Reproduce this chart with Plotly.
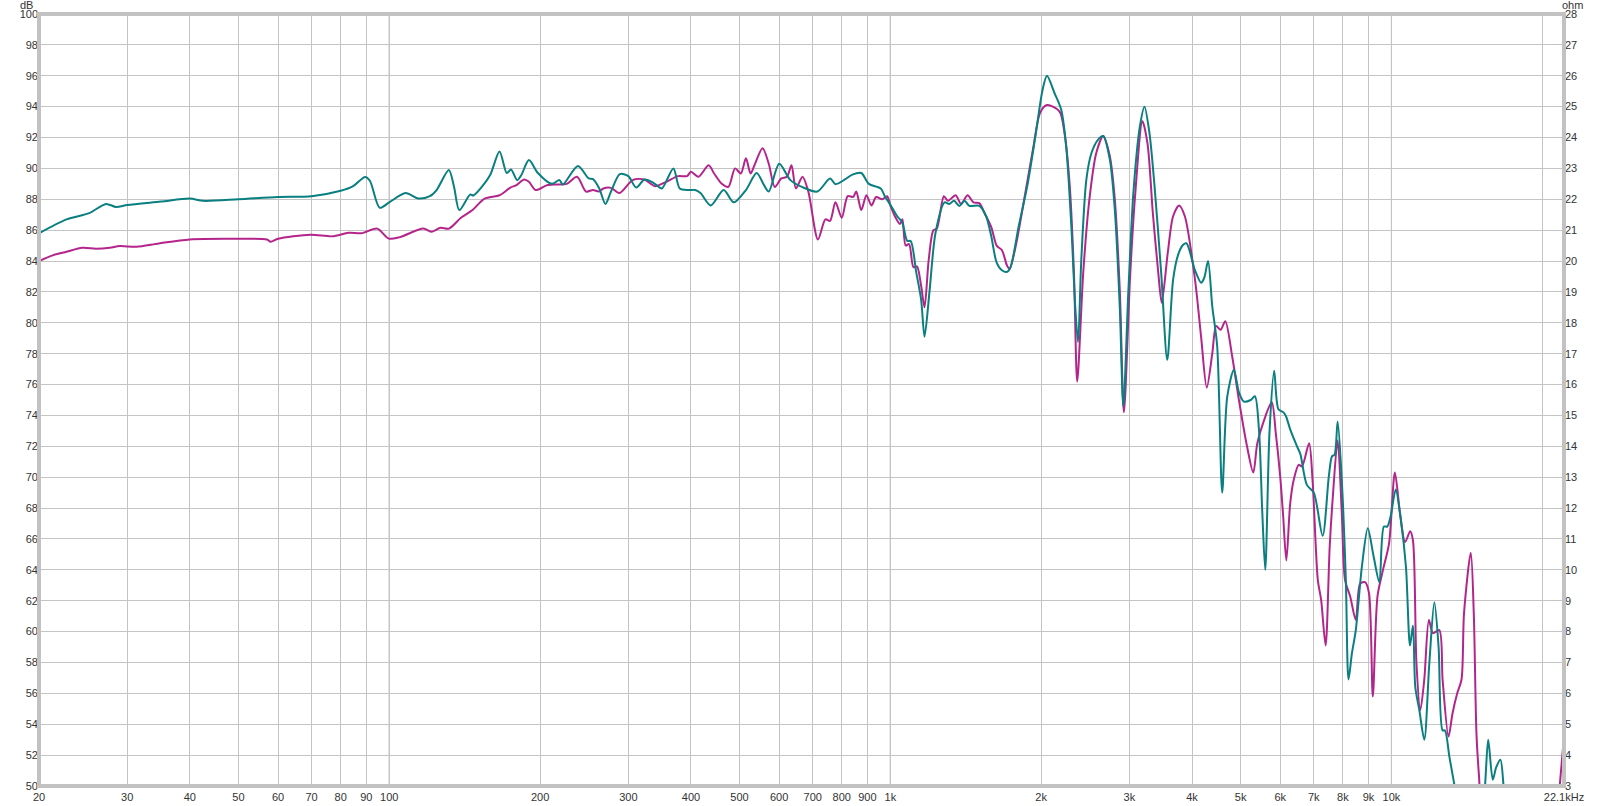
import plotly.graph_objects as go

# ---------------- data ----------------
freq_teal = [20, 22.7, 25.2, 27.2, 28.5, 30, 35, 40, 42.5, 50, 60, 70, 80, 84.7, 89.5, 91.5, 95.7, 100,
             107.8, 114.2, 120.5, 124.3, 131.5, 134.7, 138, 145, 147.3, 153, 159, 166, 171.6, 175, 180,
             183.5, 190, 198, 211, 218.6, 222, 238, 250, 255, 262.5, 270, 277, 288.5, 300, 311, 323, 334,
             342, 350, 369, 380, 396, 408, 418, 438, 465, 487, 515, 541, 560, 572, 600, 632, 666, 715,
             758, 777, 813, 840, 875, 906, 957, 975, 1000, 1032, 1056, 1081, 1098, 1126, 1152, 1170,
             1197, 1231, 1283, 1310, 1340, 1373, 1406, 1438, 1505, 1553, 1590, 1630, 1670, 1710, 1737,
             1805, 1877, 1950, 2013, 2054, 2125, 2193, 2244, 2297, 2340, 2369, 2405, 2462, 2520, 2598,
             2659, 2741, 2805, 2871, 2917, 2985, 3055, 3147, 3215, 3289, 3366, 3472, 3570, 3667, 3752,
             3840, 3900, 4055, 4170, 4230, 4306, 4390, 4490, 4595, 4702, 4848, 4962, 5078, 5236, 5340,
             5440, 5525, 5600, 5710, 5834, 5950, 6090, 6160, 6280, 6480, 6580, 6780, 7000, 7290, 7500,
             7610, 7700, 7810, 7960, 8110, 8210, 8340, 8490, 8730, 8970, 9210, 9460, 9660, 9810, 9960,
             10200, 10440, 10690, 10890, 11040, 11160, 11370, 11630, 11900, 12180, 12420, 12650, 12790,
             13050, 13400, 14000, 15000, 15370, 15600, 15930, 16180, 16500, 16800, 17500, 22100]
db_teal = [85.8, 86.7, 87.1, 87.7, 87.5, 87.63, 87.85, 88.05, 87.9, 88.0, 88.15, 88.2, 88.55, 88.85, 89.45,
           89.2, 87.45, 87.8, 88.4, 88.05, 88.2, 88.6, 89.9, 88.8, 87.3, 88.3, 88.25, 88.8, 89.57, 91.1,
           89.7, 89.93, 89.24, 89.57, 90.54, 89.7, 89.0, 89.24, 88.96, 90.15, 89.35, 89.3, 88.7, 87.7,
           88.5, 89.63, 89.5, 88.76, 89.28, 89.13, 88.9, 88.7, 90.0, 88.7, 88.6, 88.6, 88.4, 87.6, 88.6,
           87.8, 88.6, 89.7, 88.9, 88.5, 90.3, 89.24, 88.8, 88.5, 89.35, 88.98, 89.3, 89.6, 89.7, 89.0,
           88.7, 88.2, 87.65, 86.9, 86.5, 85.3, 85.3, 83.3, 81.5, 79.1, 82.0, 85.85, 87.8, 87.7, 87.9,
           87.57, 87.9, 87.57, 87.57, 86.9, 85.6, 83.9, 83.4, 83.3, 83.6, 86.3, 88.9, 92.2, 95.1, 96.0,
           94.9, 93.8, 91.4, 86.3, 80.9, 78.75, 84.1, 89.3, 91.0, 91.87, 92.1, 90.6, 87.35, 80.9, 74.6,
           82.0, 88.4, 92.7, 94.0, 92.3, 88.9, 83.2, 77.6, 82.8, 84.4, 85.05, 85.15, 83.4, 82.6, 82.9,
           84.0, 81.06, 78.5, 69.0, 75.2, 76.96, 75.5, 74.9, 75.0, 75.24, 73.1, 67.7, 64.0, 72.9, 76.9,
           74.4, 74.2, 73.95, 73.1, 72.0, 71.5, 69.5, 69.0, 66.2, 70.05, 71.35, 71.46, 73.6, 69.8, 63.35,
           56.9, 58.6, 60.1, 64.2, 66.7, 64.9, 63.2, 66.8, 66.8, 67.45, 69.2, 67.25, 64.2, 59.1, 60.4,
           56.4, 54.9, 53.0, 57.9, 61.9, 59.0, 53.6, 53.6, 51.9, 49.8, 46.0, 47.0, 50.0, 53.0, 50.4, 51.2,
           51.7, 49.5, 46.0, 44.0]

freq_magenta = [20, 21.3, 22.7, 24.4, 26.0, 27.7, 29.0, 31.3, 34.7, 40, 50, 57.0, 58.0, 60, 69.6, 77.0, 83,
                88, 94.6, 99.8, 105, 116.9, 121.6, 126.6, 131.5, 139, 146.6, 155, 166, 174.5, 179, 186,
                190, 196, 206, 216, 226, 237, 247, 255, 262, 267.5, 277, 288, 306, 323, 339, 357, 377,
                393, 400, 414, 434, 445, 461, 475, 490, 503, 515, 526, 534, 556, 572, 588, 606, 622, 635,
                648, 668, 686, 717, 742, 758, 777, 800, 822, 843, 855, 875, 896, 917, 937, 963, 985, 1000,
                1021, 1045, 1057, 1073, 1090, 1112, 1130, 1152, 1170, 1193, 1219, 1238, 1279, 1303, 1350,
                1384, 1426, 1465, 1505, 1542, 1590, 1630, 1670, 1710, 1730, 1780, 1850, 1930, 1990, 2054,
                2175, 2226, 2280, 2326, 2360, 2427, 2496, 2576, 2659, 2741, 2805, 2871, 2925, 3010, 3082,
                3185, 3260, 3341, 3424, 3480, 3580, 3667, 3770, 3870, 4055, 4170, 4280, 4390, 4470, 4560,
                4660, 4812, 4962, 5150, 5300, 5400, 5570, 5770, 5880, 6000, 6080, 6170, 6280, 6380, 6530,
                6630, 6850, 6960, 7130, 7240, 7390, 7530, 7640, 7810, 7960, 8080, 8270, 8490, 8660, 8860,
                9020, 9180, 9380, 9620, 9890, 10160, 10400, 10650, 10900, 11040, 11220, 11420, 11630,
                11880, 12100, 12460, 12650, 13000, 13240, 13530, 13800, 13960, 14400, 14600, 14780, 14950,
                15300, 17000, 20000, 21000, 21600, 22100]
db_magenta = [84.0, 84.37, 84.6, 84.86, 84.8, 84.86, 84.97, 84.92, 85.14, 85.4, 85.44, 85.4, 85.25, 85.44,
              85.7, 85.6, 85.83, 85.8, 86.1, 85.45, 85.55, 86.1, 85.9, 86.15, 86.1, 86.8, 87.3, 88.04,
              88.26, 88.76, 88.9, 89.28, 89.13, 88.6, 88.9, 88.96, 89.0, 89.46, 88.5, 88.6, 88.5, 88.7,
              88.74, 88.4, 89.24, 89.28, 88.85, 89.13, 89.5, 89.5, 89.78, 89.46, 90.2, 89.67, 89.0, 88.8,
              90.0, 89.67, 90.65, 89.67, 90.1, 91.3, 90.3, 88.8, 89.35, 89.46, 90.2, 88.7, 89.46, 88.5,
              85.4, 86.7, 86.6, 87.8, 86.8, 88.2, 88.15, 88.5, 87.3, 88.26, 87.6, 88.15, 88.0, 88.2, 87.6,
              86.9, 86.4, 86.7, 85.0, 85.1, 83.6, 83.65, 82.4, 81.0, 84.1, 86.0, 86.1, 88.2, 87.9, 88.26,
              87.7, 88.26, 87.8, 87.75, 87.1, 86.2, 85.0, 84.7, 83.7, 83.5, 85.0, 88.0, 91.4, 93.6, 94.1,
              93.7, 92.3, 88.9, 83.05, 76.2, 83.3, 88.0, 91.0, 92.1, 90.8, 88.0, 82.0, 74.2, 83.05, 88.4,
              93.05, 91.6, 87.1, 83.3, 81.3, 84.6, 86.9, 87.6, 86.9, 82.8, 79.1, 75.8, 78.0, 79.8, 79.55,
              80.1, 77.8, 75.0, 72.0, 70.3, 72.2, 73.7, 74.85, 72.8, 70.0, 67.5, 64.6, 68.3, 69.8, 70.8,
              70.7, 72.2, 69.8, 63.35, 62.05, 59.1, 65.5, 68.75, 72.4, 67.7, 63.35, 62.3, 60.75, 63.1, 63.2,
              62.5, 55.8, 62.3, 64.0, 65.7, 70.3, 67.7, 65.8, 66.5, 65.9, 57.9, 54.9, 56.9, 60.75, 59.9,
              60.1, 56.9, 53.2, 54.7, 56.0, 56.9, 61.2, 65.1, 61.2, 53.4, 50.7, 47.0, 44.0, 44.0, 45.0,
              49.5, 53.2]

x_tickvals = [20, 30, 40, 50, 60, 70, 80, 90, 100, 200, 300, 400, 500, 600, 700, 800, 900, 1000,
              2000, 3000, 4000, 5000, 6000, 7000, 8000, 9000, 10000, 20000, 22100]
x_ticktext = ["20", "30", "40", "50", "60", "70", "80", "90", "100", "200", "300", "400", "500", "600",
              "700", "800", "900", "1k", "2k", "3k", "4k", "5k", "6k", "7k", "8k", "9k", "10k", "", "22.1kHz"]
decades = [100, 1000, 10000]
db_ticks = list(range(50, 101, 2))
ohm_ticks = list(range(3, 29))

TEAL = "#0a7f80"
MAGENTA = "#b4258c"
GRID = "#c4c4c4"
TXT = "#333333"
FONT = "Liberation Sans, Arial, sans-serif"

fig = go.Figure()
fig.add_trace(go.Scatter(x=freq_magenta, y=db_magenta, mode="lines", name="Magenta",
                         line=dict(color=MAGENTA, width=2, shape="spline", smoothing=0.8),
                         showlegend=False, hoverinfo="skip"))
fig.add_trace(go.Scatter(x=freq_teal, y=db_teal, mode="lines", name="Teal",
                         line=dict(color=TEAL, width=2, shape="spline", smoothing=0.8),
                         showlegend=False, hoverinfo="skip"))
# empty trace so that the impedance (ohm) axis on the right is drawn
fig.add_trace(go.Scatter(x=[], y=[], yaxis="y2", mode="lines", showlegend=False, hoverinfo="skip"))

shapes = []
for d in decades:
    shapes.append(dict(type="line", xref="x", yref="paper", x0=d, x1=d, y0=0, y1=1,
                       line=dict(color="#8a8a8a", width=1), layer="below"))
shapes.append(dict(type="rect", xref="paper", yref="paper", x0=0, x1=1, y0=0, y1=1,
                   line=dict(color="#c2c2c2", width=4), layer="above"))

axis_common = dict(zeroline=False, showline=False, ticks="", automargin=False,
                   tickfont=dict(family=FONT, size=11, color=TXT))

fig.update_layout(
    template="none",
    width=1603, height=806, autosize=False,
    margin=dict(l=39, r=39, t=14, b=20, pad=0),
    paper_bgcolor="white", plot_bgcolor="white",
    font=dict(family=FONT, size=11, color=TXT),
    showlegend=False,
    xaxis=dict(type="log", range=[1.30103, 4.344392], tickvals=x_tickvals, ticktext=x_ticktext,
               showgrid=True, gridcolor=GRID, gridwidth=1, ticklabelstandoff=3, **axis_common),
    yaxis=dict(range=[50, 100], tickvals=db_ticks, showgrid=True, gridcolor=GRID, gridwidth=1,
               **axis_common),
    yaxis2=dict(range=[3, 28], tickvals=ohm_ticks, overlaying="y", side="right", showgrid=False,
                **axis_common),
    shapes=shapes,
    annotations=[
        dict(text="dB", xref="paper", yref="paper", x=0, y=1, xanchor="center", yanchor="bottom",
             xshift=-13, yshift=1, showarrow=False, font=dict(family=FONT, size=11, color=TXT)),
        dict(text="ohm", xref="paper", yref="paper", x=1, y=1, xanchor="center", yanchor="bottom",
             xshift=8, yshift=1, showarrow=False, font=dict(family=FONT, size=11, color=TXT)),
    ],
)

fig.write_html("out.html", config={"displayModeBar": False},
               post_script="document.body.style.margin='0';document.body.style.overflow='hidden';")
